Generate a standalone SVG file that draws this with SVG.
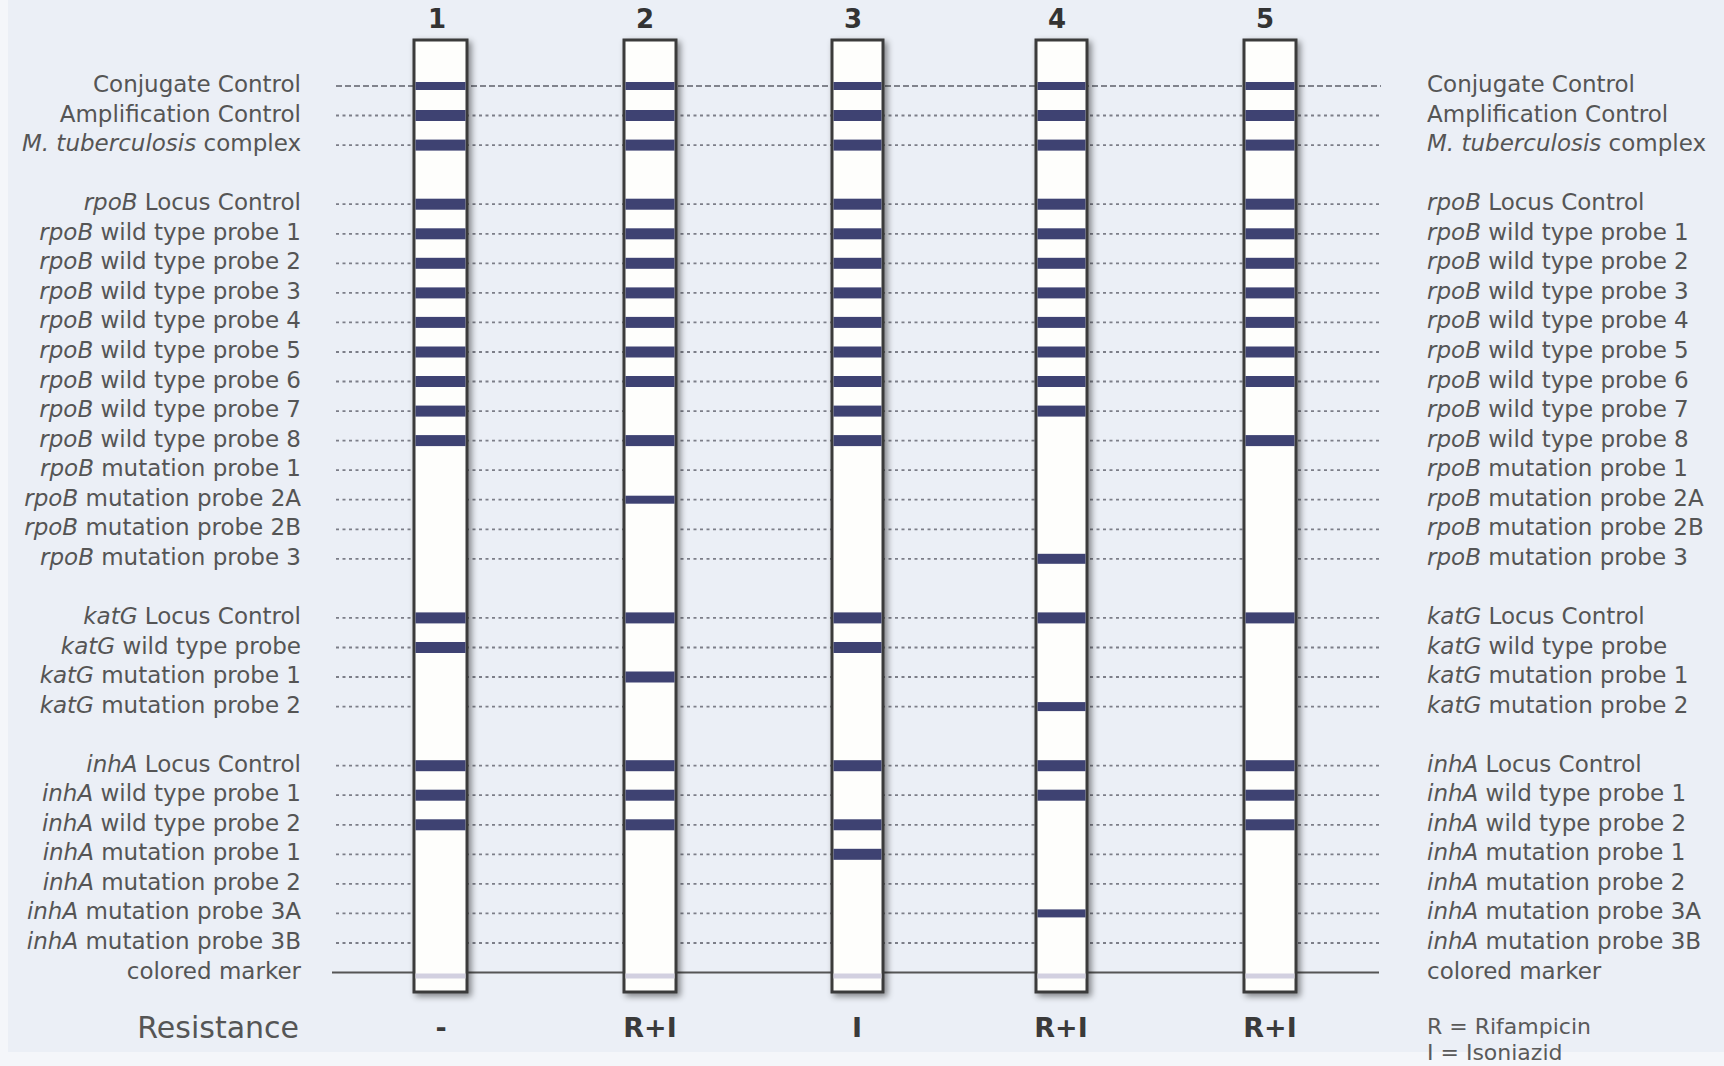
<svg xmlns="http://www.w3.org/2000/svg" width="1724" height="1066" viewBox="0 0 1724 1066">
<defs>
<filter id="sh" x="-40%" y="-5%" width="180%" height="110%">
<feDropShadow dx="3" dy="3" stdDeviation="3" flood-color="#000" flood-opacity="0.45"/>
</filter>
<style>
.lbl{font-family:"DejaVu Sans","Liberation Sans",sans-serif;font-size:23px;fill:#555}
.it{font-style:italic}
.l{text-anchor:end}
.num{font-family:"DejaVu Sans","Liberation Sans",sans-serif;font-size:26px;font-weight:bold;fill:#333;text-anchor:middle}
.res{font-family:"DejaVu Sans","Liberation Sans",sans-serif;font-size:27px;font-weight:bold;fill:#3a3a3a;text-anchor:middle}
.big{font-family:"DejaVu Sans","Liberation Sans",sans-serif;font-size:30px;fill:#555;text-anchor:end}
.leg{font-family:"DejaVu Sans","Liberation Sans",sans-serif;font-size:22px;fill:#5a5a5a}
.strip{fill:#fefefc;stroke:#3a3a3a;stroke-width:3}
.band{fill:#3e4272}
.mk{fill:#d2d0e0}
.dash{stroke:#7c7e88;stroke-width:1.8;stroke-dasharray:3 3.5;fill:none}
.dash0{stroke:#5e606a;stroke-width:1.6;stroke-dasharray:6 3;fill:none}
.solid{stroke:#555;stroke-width:2;fill:none}
</style>
</defs>
<rect x="0" y="0" width="1724" height="1066" fill="#f4f6fa"/>
<rect x="8" y="0" width="1716" height="1052" fill="#ebeff6"/>

<g id="connectors">
<line class="dash0" x1="336" y1="86" x2="1381" y2="86"/>
<line class="dash" x1="336" y1="115.5" x2="1381" y2="115.5"/>
<line class="dash" x1="336" y1="145.1" x2="1381" y2="145.1"/>
<line class="dash" x1="336" y1="204.2" x2="1381" y2="204.2"/>
<line class="dash" x1="336" y1="233.8" x2="1381" y2="233.8"/>
<line class="dash" x1="336" y1="263.3" x2="1381" y2="263.3"/>
<line class="dash" x1="336" y1="292.9" x2="1381" y2="292.9"/>
<line class="dash" x1="336" y1="322.4" x2="1381" y2="322.4"/>
<line class="dash" x1="336" y1="352" x2="1381" y2="352"/>
<line class="dash" x1="336" y1="381.5" x2="1381" y2="381.5"/>
<line class="dash" x1="336" y1="411.1" x2="1381" y2="411.1"/>
<line class="dash" x1="336" y1="440.6" x2="1381" y2="440.6"/>
<line class="dash" x1="336" y1="470.2" x2="1381" y2="470.2"/>
<line class="dash" x1="336" y1="499.7" x2="1381" y2="499.7"/>
<line class="dash" x1="336" y1="529.3" x2="1381" y2="529.3"/>
<line class="dash" x1="336" y1="558.8" x2="1381" y2="558.8"/>
<line class="dash" x1="336" y1="617.9" x2="1381" y2="617.9"/>
<line class="dash" x1="336" y1="647.5" x2="1381" y2="647.5"/>
<line class="dash" x1="336" y1="677" x2="1381" y2="677"/>
<line class="dash" x1="336" y1="706.6" x2="1381" y2="706.6"/>
<line class="dash" x1="336" y1="765.7" x2="1381" y2="765.7"/>
<line class="dash" x1="336" y1="795.2" x2="1381" y2="795.2"/>
<line class="dash" x1="336" y1="824.8" x2="1381" y2="824.8"/>
<line class="dash" x1="336" y1="854.3" x2="1381" y2="854.3"/>
<line class="dash" x1="336" y1="883.9" x2="1381" y2="883.9"/>
<line class="dash" x1="336" y1="913.4" x2="1381" y2="913.4"/>
<line class="dash" x1="336" y1="943" x2="1381" y2="943"/>
<line class="solid" x1="332" y1="972.5" x2="1379" y2="972.5"/>
</g>

<g id="strip-1">
<text class="num" x="437" y="28">1</text>
<rect class="strip" x="414" y="40" width="53" height="952" filter="url(#sh)"/>
<rect class="mk" x="415.5" y="973.5" width="50" height="5"/>
<rect class="band" x="415.5" y="82" width="50" height="8"/>
<rect class="band" x="415.5" y="110" width="50" height="11"/>
<rect class="band" x="415.5" y="139.6" width="50" height="11"/>
<rect class="band" x="415.5" y="198.7" width="50" height="11"/>
<rect class="band" x="415.5" y="228.3" width="50" height="11"/>
<rect class="band" x="415.5" y="257.8" width="50" height="11"/>
<rect class="band" x="415.5" y="287.4" width="50" height="11"/>
<rect class="band" x="415.5" y="316.9" width="50" height="11"/>
<rect class="band" x="415.5" y="346.5" width="50" height="11"/>
<rect class="band" x="415.5" y="376" width="50" height="11"/>
<rect class="band" x="415.5" y="405.6" width="50" height="11"/>
<rect class="band" x="415.5" y="435.1" width="50" height="11"/>
<rect class="band" x="415.5" y="612.4" width="50" height="11"/>
<rect class="band" x="415.5" y="642" width="50" height="11"/>
<rect class="band" x="415.5" y="760.2" width="50" height="11"/>
<rect class="band" x="415.5" y="789.7" width="50" height="11"/>
<rect class="band" x="415.5" y="819.3" width="50" height="11"/>
<text class="res" x="441" y="1037">-</text>
</g>

<g id="strip-2">
<text class="num" x="645" y="28">2</text>
<rect class="strip" x="624" y="40" width="52" height="952" filter="url(#sh)"/>
<rect class="mk" x="625.5" y="973.5" width="49" height="5"/>
<rect class="band" x="625.5" y="82" width="49" height="8"/>
<rect class="band" x="625.5" y="110" width="49" height="11"/>
<rect class="band" x="625.5" y="139.6" width="49" height="11"/>
<rect class="band" x="625.5" y="198.7" width="49" height="11"/>
<rect class="band" x="625.5" y="228.3" width="49" height="11"/>
<rect class="band" x="625.5" y="257.8" width="49" height="11"/>
<rect class="band" x="625.5" y="287.4" width="49" height="11"/>
<rect class="band" x="625.5" y="316.9" width="49" height="11"/>
<rect class="band" x="625.5" y="346.5" width="49" height="11"/>
<rect class="band" x="625.5" y="376" width="49" height="11"/>
<rect class="band" x="625.5" y="435.1" width="49" height="11"/>
<rect class="band" x="625.5" y="495.7" width="49" height="8"/>
<rect class="band" x="625.5" y="612.4" width="49" height="11"/>
<rect class="band" x="625.5" y="671.5" width="49" height="11"/>
<rect class="band" x="625.5" y="760.2" width="49" height="11"/>
<rect class="band" x="625.5" y="789.7" width="49" height="11"/>
<rect class="band" x="625.5" y="819.3" width="49" height="11"/>
<text class="res" x="650" y="1037">R+I</text>
</g>

<g id="strip-3">
<text class="num" x="853" y="28">3</text>
<rect class="strip" x="832" y="40" width="51" height="952" filter="url(#sh)"/>
<rect class="mk" x="833.5" y="973.5" width="48" height="5"/>
<rect class="band" x="833.5" y="82" width="48" height="8"/>
<rect class="band" x="833.5" y="110" width="48" height="11"/>
<rect class="band" x="833.5" y="139.6" width="48" height="11"/>
<rect class="band" x="833.5" y="198.7" width="48" height="11"/>
<rect class="band" x="833.5" y="228.3" width="48" height="11"/>
<rect class="band" x="833.5" y="257.8" width="48" height="11"/>
<rect class="band" x="833.5" y="287.4" width="48" height="11"/>
<rect class="band" x="833.5" y="316.9" width="48" height="11"/>
<rect class="band" x="833.5" y="346.5" width="48" height="11"/>
<rect class="band" x="833.5" y="376" width="48" height="11"/>
<rect class="band" x="833.5" y="405.6" width="48" height="11"/>
<rect class="band" x="833.5" y="435.1" width="48" height="11"/>
<rect class="band" x="833.5" y="612.4" width="48" height="11"/>
<rect class="band" x="833.5" y="642" width="48" height="11"/>
<rect class="band" x="833.5" y="760.2" width="48" height="11"/>
<rect class="band" x="833.5" y="819.3" width="48" height="11"/>
<rect class="band" x="833.5" y="848.8" width="48" height="11"/>
<text class="res" x="857" y="1037">I</text>
</g>

<g id="strip-4">
<text class="num" x="1057" y="28">4</text>
<rect class="strip" x="1036" y="40" width="51" height="952" filter="url(#sh)"/>
<rect class="mk" x="1037.5" y="973.5" width="48" height="5"/>
<rect class="band" x="1037.5" y="82" width="48" height="8"/>
<rect class="band" x="1037.5" y="110" width="48" height="11"/>
<rect class="band" x="1037.5" y="139.6" width="48" height="11"/>
<rect class="band" x="1037.5" y="198.7" width="48" height="11"/>
<rect class="band" x="1037.5" y="228.3" width="48" height="11"/>
<rect class="band" x="1037.5" y="257.8" width="48" height="11"/>
<rect class="band" x="1037.5" y="287.4" width="48" height="11"/>
<rect class="band" x="1037.5" y="316.9" width="48" height="11"/>
<rect class="band" x="1037.5" y="346.5" width="48" height="11"/>
<rect class="band" x="1037.5" y="376" width="48" height="11"/>
<rect class="band" x="1037.5" y="405.6" width="48" height="11"/>
<rect class="band" x="1037.5" y="553.8" width="48" height="10"/>
<rect class="band" x="1037.5" y="612.4" width="48" height="11"/>
<rect class="band" x="1037.5" y="702.1" width="48" height="9"/>
<rect class="band" x="1037.5" y="760.2" width="48" height="11"/>
<rect class="band" x="1037.5" y="789.7" width="48" height="11"/>
<rect class="band" x="1037.5" y="909.4" width="48" height="8"/>
<text class="res" x="1061" y="1037">R+I</text>
</g>

<g id="strip-5">
<text class="num" x="1265" y="28">5</text>
<rect class="strip" x="1244" y="40" width="52" height="952" filter="url(#sh)"/>
<rect class="mk" x="1245.5" y="973.5" width="49" height="5"/>
<rect class="band" x="1245.5" y="82" width="49" height="8"/>
<rect class="band" x="1245.5" y="110" width="49" height="11"/>
<rect class="band" x="1245.5" y="139.6" width="49" height="11"/>
<rect class="band" x="1245.5" y="198.7" width="49" height="11"/>
<rect class="band" x="1245.5" y="228.3" width="49" height="11"/>
<rect class="band" x="1245.5" y="257.8" width="49" height="11"/>
<rect class="band" x="1245.5" y="287.4" width="49" height="11"/>
<rect class="band" x="1245.5" y="316.9" width="49" height="11"/>
<rect class="band" x="1245.5" y="346.5" width="49" height="11"/>
<rect class="band" x="1245.5" y="376" width="49" height="11"/>
<rect class="band" x="1245.5" y="435.1" width="49" height="11"/>
<rect class="band" x="1245.5" y="612.4" width="49" height="11"/>
<rect class="band" x="1245.5" y="760.2" width="49" height="11"/>
<rect class="band" x="1245.5" y="789.7" width="49" height="11"/>
<rect class="band" x="1245.5" y="819.3" width="49" height="11"/>
<text class="res" x="1270" y="1037">R+I</text>
</g>

<g id="labels-left">
<text class="lbl l" x="301" y="92">Conjugate Control</text>
<text class="lbl l" x="301" y="121.5">Amplification Control</text>
<text class="lbl l" x="301" y="151.1"><tspan class="it">M. tuberculosis</tspan> complex</text>
<text class="lbl l" x="301" y="210.2"><tspan class="it">rpoB</tspan> Locus Control</text>
<text class="lbl l" x="301" y="239.8"><tspan class="it">rpoB</tspan> wild type probe 1</text>
<text class="lbl l" x="301" y="269.3"><tspan class="it">rpoB</tspan> wild type probe 2</text>
<text class="lbl l" x="301" y="298.9"><tspan class="it">rpoB</tspan> wild type probe 3</text>
<text class="lbl l" x="301" y="328.4"><tspan class="it">rpoB</tspan> wild type probe 4</text>
<text class="lbl l" x="301" y="358"><tspan class="it">rpoB</tspan> wild type probe 5</text>
<text class="lbl l" x="301" y="387.5"><tspan class="it">rpoB</tspan> wild type probe 6</text>
<text class="lbl l" x="301" y="417.1"><tspan class="it">rpoB</tspan> wild type probe 7</text>
<text class="lbl l" x="301" y="446.6"><tspan class="it">rpoB</tspan> wild type probe 8</text>
<text class="lbl l" x="301" y="476.2"><tspan class="it">rpoB</tspan> mutation probe 1</text>
<text class="lbl l" x="301" y="505.7"><tspan class="it">rpoB</tspan> mutation probe 2A</text>
<text class="lbl l" x="301" y="535.3"><tspan class="it">rpoB</tspan> mutation probe 2B</text>
<text class="lbl l" x="301" y="564.8"><tspan class="it">rpoB</tspan> mutation probe 3</text>
<text class="lbl l" x="301" y="623.9"><tspan class="it">katG</tspan> Locus Control</text>
<text class="lbl l" x="301" y="653.5"><tspan class="it">katG</tspan> wild type probe</text>
<text class="lbl l" x="301" y="683"><tspan class="it">katG</tspan> mutation probe 1</text>
<text class="lbl l" x="301" y="712.6"><tspan class="it">katG</tspan> mutation probe 2</text>
<text class="lbl l" x="301" y="771.7"><tspan class="it">inhA</tspan> Locus Control</text>
<text class="lbl l" x="301" y="801.2"><tspan class="it">inhA</tspan> wild type probe 1</text>
<text class="lbl l" x="301" y="830.8"><tspan class="it">inhA</tspan> wild type probe 2</text>
<text class="lbl l" x="301" y="860.3"><tspan class="it">inhA</tspan> mutation probe 1</text>
<text class="lbl l" x="301" y="889.9"><tspan class="it">inhA</tspan> mutation probe 2</text>
<text class="lbl l" x="301" y="919.4"><tspan class="it">inhA</tspan> mutation probe 3A</text>
<text class="lbl l" x="301" y="949"><tspan class="it">inhA</tspan> mutation probe 3B</text>
<text class="lbl l" x="301" y="978.5">colored marker</text>
<text class="big" x="299" y="1038">Resistance</text>
</g>

<g id="labels-right">
<text class="lbl" x="1427" y="92">Conjugate Control</text>
<text class="lbl" x="1427" y="121.5">Amplification Control</text>
<text class="lbl" x="1427" y="151.1"><tspan class="it">M. tuberculosis</tspan> complex</text>
<text class="lbl" x="1427" y="210.2"><tspan class="it">rpoB</tspan> Locus Control</text>
<text class="lbl" x="1427" y="239.8"><tspan class="it">rpoB</tspan> wild type probe 1</text>
<text class="lbl" x="1427" y="269.3"><tspan class="it">rpoB</tspan> wild type probe 2</text>
<text class="lbl" x="1427" y="298.9"><tspan class="it">rpoB</tspan> wild type probe 3</text>
<text class="lbl" x="1427" y="328.4"><tspan class="it">rpoB</tspan> wild type probe 4</text>
<text class="lbl" x="1427" y="358"><tspan class="it">rpoB</tspan> wild type probe 5</text>
<text class="lbl" x="1427" y="387.5"><tspan class="it">rpoB</tspan> wild type probe 6</text>
<text class="lbl" x="1427" y="417.1"><tspan class="it">rpoB</tspan> wild type probe 7</text>
<text class="lbl" x="1427" y="446.6"><tspan class="it">rpoB</tspan> wild type probe 8</text>
<text class="lbl" x="1427" y="476.2"><tspan class="it">rpoB</tspan> mutation probe 1</text>
<text class="lbl" x="1427" y="505.7"><tspan class="it">rpoB</tspan> mutation probe 2A</text>
<text class="lbl" x="1427" y="535.3"><tspan class="it">rpoB</tspan> mutation probe 2B</text>
<text class="lbl" x="1427" y="564.8"><tspan class="it">rpoB</tspan> mutation probe 3</text>
<text class="lbl" x="1427" y="623.9"><tspan class="it">katG</tspan> Locus Control</text>
<text class="lbl" x="1427" y="653.5"><tspan class="it">katG</tspan> wild type probe</text>
<text class="lbl" x="1427" y="683"><tspan class="it">katG</tspan> mutation probe 1</text>
<text class="lbl" x="1427" y="712.6"><tspan class="it">katG</tspan> mutation probe 2</text>
<text class="lbl" x="1427" y="771.7"><tspan class="it">inhA</tspan> Locus Control</text>
<text class="lbl" x="1427" y="801.2"><tspan class="it">inhA</tspan> wild type probe 1</text>
<text class="lbl" x="1427" y="830.8"><tspan class="it">inhA</tspan> wild type probe 2</text>
<text class="lbl" x="1427" y="860.3"><tspan class="it">inhA</tspan> mutation probe 1</text>
<text class="lbl" x="1427" y="889.9"><tspan class="it">inhA</tspan> mutation probe 2</text>
<text class="lbl" x="1427" y="919.4"><tspan class="it">inhA</tspan> mutation probe 3A</text>
<text class="lbl" x="1427" y="949"><tspan class="it">inhA</tspan> mutation probe 3B</text>
<text class="lbl" x="1427" y="978.5">colored marker</text>
<text class="leg" x="1427" y="1034">R = Rifampicin</text>
<text class="leg" x="1427" y="1060">I = Isoniazid</text>
</g>
</svg>
